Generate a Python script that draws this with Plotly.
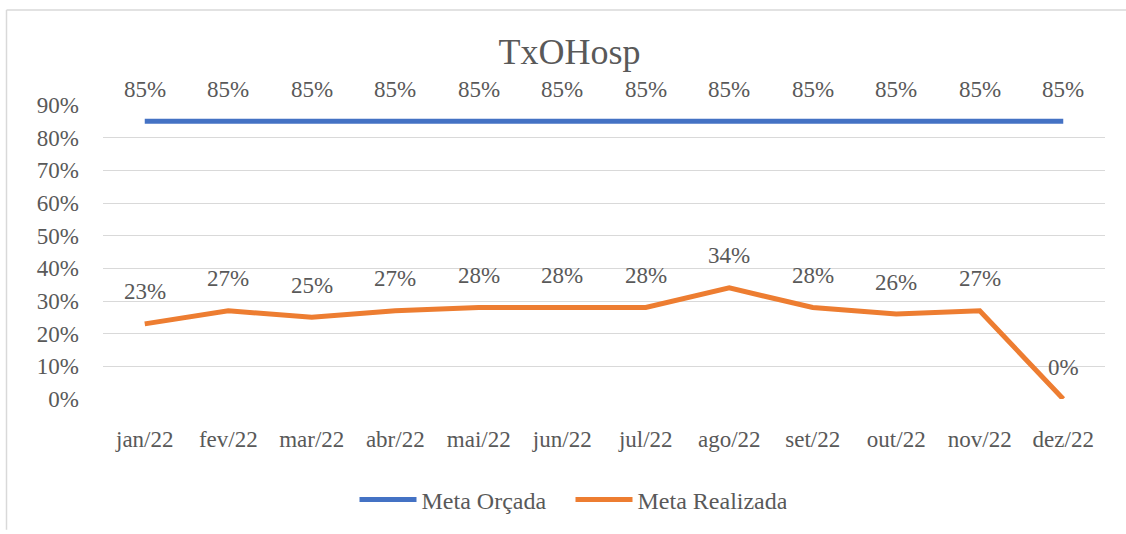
import plotly.graph_objects as go

categories = ["jan/22", "fev/22", "mar/22", "abr/22", "mai/22", "jun/22",
              "jul/22", "ago/22", "set/22", "out/22", "nov/22", "dez/22"]
meta_orcada = [0.85] * 12
meta_realizada = [0.23, 0.27, 0.25, 0.27, 0.28, 0.28, 0.28, 0.34, 0.28, 0.26, 0.27, 0.0]
y_ticks = [0, 0.1, 0.2, 0.3, 0.4, 0.5, 0.6, 0.7, 0.8, 0.9]
series_names = ["Meta Orçada", "Meta Realizada"]
title_text = "TxOHosp"

W, H = 1126, 534
L, R, T, B = 103, 21, 105, 132
FONT = "Liberation Serif"
GRAY = "#595959"
BLUE = "#4472C4"
ORANGE = "#ED7D31"

def px_x(p):
    return (p - L) / (W - L - R)

def px_y(p):
    return (H - B - p) / (H - T - B)

fig = go.Figure()
fig.add_trace(go.Scatter(x=categories, y=meta_orcada, mode="lines", name=series_names[0],
                         line=dict(color=BLUE, width=5)))
fig.add_trace(go.Scatter(x=categories, y=meta_realizada, mode="lines", name=series_names[1],
                         line=dict(color=ORANGE, width=5)))

annotations = []
for series in (meta_orcada, meta_realizada):
    for c, v in zip(categories, series):
        annotations.append(dict(x=c, y=v, xref="x", yref="y", text=f"{round(v*100)}%",
                                showarrow=False, yshift=32,
                                font=dict(family=FONT, size=23, color=GRAY)))

shapes = [
    dict(type="line", xref="paper", yref="paper", x0=px_x(6.5), x1=px_x(W), y0=px_y(9), y1=px_y(9),
         line=dict(color="#D9D9D9", width=1.5)),
    dict(type="line", xref="paper", yref="paper", x0=px_x(6.5), x1=px_x(6.5), y0=px_y(9), y1=px_y(H),
         line=dict(color="#D9D9D9", width=1.5)),
]

fig.update_layout(
    width=W, height=H,
    margin=dict(l=L, r=R, t=T, b=B),
    paper_bgcolor="white", plot_bgcolor="white",
    font=dict(family=FONT, size=23, color=GRAY),
    title=dict(text=title_text, x=569.5 / W, xanchor="center", y=1 - 51 / H, yanchor="middle",
               xref="container", yref="container",
               font=dict(family=FONT, size=36, color=GRAY)),
    xaxis=dict(type="category", range=[-0.5, 11.5], showgrid=False, zeroline=False,
               showline=False, ticks="", ticklabelstandoff=24,
               tickfont=dict(family=FONT, size=23, color=GRAY)),
    yaxis=dict(range=[0, 0.9], tickvals=y_ticks, tickformat=".0%", showgrid=True,
               gridcolor="#D9D9D9", gridwidth=1.3, zeroline=False, showline=False,
               ticks="", ticklabelstandoff=23,
               tickfont=dict(family=FONT, size=23, color=GRAY)),
    showlegend=True,
    legend=dict(orientation="h", x=px_x(570.5), xanchor="center", y=px_y(504), yanchor="middle",
                font=dict(family=FONT, size=24, color=GRAY), itemwidth=57,
                entrywidth=144, entrywidthmode="pixels",
                bgcolor="rgba(0,0,0,0)"),
    annotations=annotations,
    shapes=shapes,
)

fig.write_html("out.html", config={"displayModeBar": False},
               post_script="document.body.style.margin='0';document.body.style.overflow='hidden';")
